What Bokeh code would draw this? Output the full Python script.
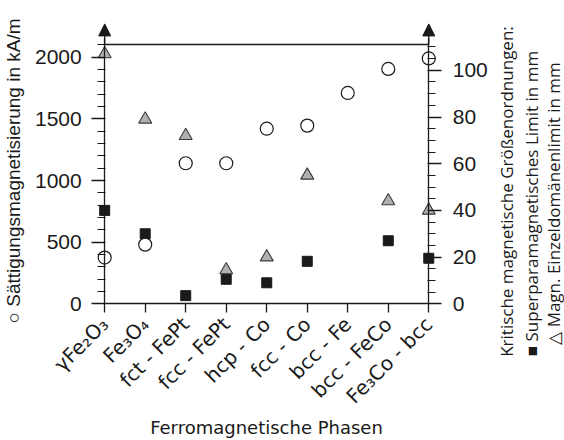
import math
from bokeh.plotting import figure
from bokeh.models import Range1d, LinearAxis, FixedTicker, Arrow, NormalHead, Label
from bokeh.embed import file_html
from bokeh.resources import INLINE

NAN = float("nan")

# ---- data ----
phases = ["γFe₂O₃", "Fe₃O₄", "fct - FePt", "fcc - FePt", "hcp - Co",
          "fcc - Co", "bcc - Fe", "bcc - FeCo", "Fe₃Co - bcc"]
saturation = [375, 480, 1140, 1140, 1420, 1445, 1710, 1905, 1990]          # kA/m (left)
superpara = [40, 30, 3.5, 10.5, 9, 18.2, NAN, 27, 19.5]                     # right axis
single_domain = [107, 79, 72, 14.5, 20, 55, NAN, 44, 40]                    # right axis
left_ticks = [0, 500, 1000, 1500, 2000]
left_minor = list(range(0, 2101, 100))
right_ticks = [0, 20, 40, 60, 80, 100]
right_minor = list(range(0, 111, 5))
left_top = 2100

# ---- layout constants (pixels) ----
W, H = 564, 440
X0_PX = 104.2      # pixel x of first category
CAT_PX = 40.51     # pixels per category
Y0_PX = 303.3      # pixel y (from top) of value 0
L_PX = 0.1233      # px per kA/m
R_PX = 2.335       # px per right-axis unit
RATIO = L_PX / R_PX

idx = list(range(len(phases)))

p = figure(width=W, height=H, output_backend="svg", toolbar_location=None,
           x_axis_location=None, y_axis_location=None,
           min_border=0, min_border_left=0, min_border_right=0,
           min_border_top=0, min_border_bottom=0)
p.outline_line_color = None
p.background_fill_color = "white"
p.border_fill_color = "white"
p.grid.visible = False
p.grid.grid_line_color = None

p.x_range = Range1d(-X0_PX / CAT_PX, (W - X0_PX) / CAT_PX)
p.y_range = Range1d(-(H - Y0_PX) / L_PX, Y0_PX / L_PX)
p.extra_y_ranges = {"right": Range1d(-(H - Y0_PX) / R_PX, Y0_PX / R_PX)}

INK = "#1a1a1a"
TICK_FONT = "Liberation Sans"

def style_axis(ax, size="21px", font=TICK_FONT):
    ax.axis_line_color = INK
    ax.axis_line_width = 1.3
    ax.major_tick_line_color = INK
    ax.major_tick_line_width = 1.3
    ax.minor_tick_line_color = INK
    ax.minor_tick_line_width = 1.1
    ax.major_label_text_font = font
    ax.major_label_text_font_size = size
    ax.major_label_text_color = INK

# left axis
yl = LinearAxis(ticker=FixedTicker(ticks=left_ticks, minor_ticks=left_minor),
                fixed_location=0, bounds=(0, 2150),
                axis_label="○ Sättigungsmagnetisierung in kA/m")
style_axis(yl)
yl.major_tick_out = 13
yl.major_tick_in = 0
yl.minor_tick_out = 7
yl.minor_tick_in = 1
yl.major_label_standoff = 10
yl.axis_label_text_font = TICK_FONT
yl.axis_label_text_font_size = "19px"
yl.axis_label_text_font_style = "normal"
yl.axis_label_text_color = INK
yl.axis_label_standoff = 8
p.add_layout(yl, "left")

# right axis
yr = LinearAxis(y_range_name="right",
                ticker=FixedTicker(ticks=right_ticks, minor_ticks=right_minor),
                fixed_location=len(phases) - 1, bounds=(0, 2150 * RATIO))
style_axis(yr)
yr.major_tick_out = 13
yr.major_tick_in = 0
yr.minor_tick_out = 7
yr.minor_tick_in = 1
yr.major_label_standoff = 11
p.add_layout(yr, "right")

# bottom axis
xb = LinearAxis(ticker=FixedTicker(ticks=idx, minor_ticks=[]),
                fixed_location=0, bounds=(0, len(phases) - 1),
                axis_label="Ferromagnetische Phasen")
style_axis(xb, "20px", "DejaVu Sans")
xb.major_label_overrides = {i: n for i, n in enumerate(phases)}
xb.major_label_orientation = math.pi / 4
xb.major_tick_out = 9
xb.major_tick_in = 0
xb.minor_tick_out = 0
xb.minor_tick_in = 0
xb.major_label_standoff = 8
xb.axis_label_text_font = "DejaVu Sans"
xb.axis_label_text_font_size = "18px"
xb.axis_label_text_font_style = "normal"
xb.axis_label_text_color = INK
xb.axis_label_standoff = -2
p.add_layout(xb, "below")

# top frame line
xt = LinearAxis(ticker=FixedTicker(ticks=[], minor_ticks=[]),
                fixed_location=left_top, bounds=(0, len(phases) - 1))
style_axis(xt)
xt.major_tick_out = 0
xt.major_tick_in = 0
xt.minor_tick_out = 0
xt.minor_tick_in = 0
p.add_layout(xt, "above")

# arrows on both vertical axes
tip = 2270
p.add_layout(Arrow(x_start=0, y_start=left_top, x_end=0, y_end=tip,
                   line_color=INK, line_width=1.3,
                   end=NormalHead(size=12, fill_color=INK, line_color=INK, line_width=1)))
p.add_layout(Arrow(x_start=len(phases) - 1, y_start=left_top * RATIO,
                   x_end=len(phases) - 1, y_end=tip * RATIO, y_range_name="right",
                   line_color=INK, line_width=1.3,
                   end=NormalHead(size=12, fill_color=INK, line_color=INK, line_width=1)))

# markers
p.scatter(idx, single_domain, y_range_name="right", marker="triangle", size=13,
          fill_color="#b0b0b0", line_color="#3a3a3a", line_width=1.1)
p.scatter(idx, superpara, y_range_name="right", marker="square", size=10,
          fill_color=INK, line_color=INK, line_width=1)
p.scatter(idx, saturation, marker="circle", size=13,
          fill_color="white", line_color=INK, line_width=1.2)

# right-side legend texts
def dx(px):
    return (px - X0_PX) / CAT_PX

def dy(py):
    return (Y0_PX - py) / L_PX

right_lines = [("Kritische magnetische Größenordnungen:", 506, 191),
               ("■ Superparamagnetisches Limit in mm", 531, 203),
               ("△ Magn. Einzeldomänenlimit in mm", 553, 203)]
for txt, px, py in right_lines:
    p.add_layout(Label(x=dx(px), y=dy(py), text=txt, angle=math.pi / 2,
                       text_align="center", text_baseline="middle",
                       text_font="Open Sans", text_font_size="17px",
                       text_color=INK))

open("out.html", "w").write(file_html(p, INLINE))
